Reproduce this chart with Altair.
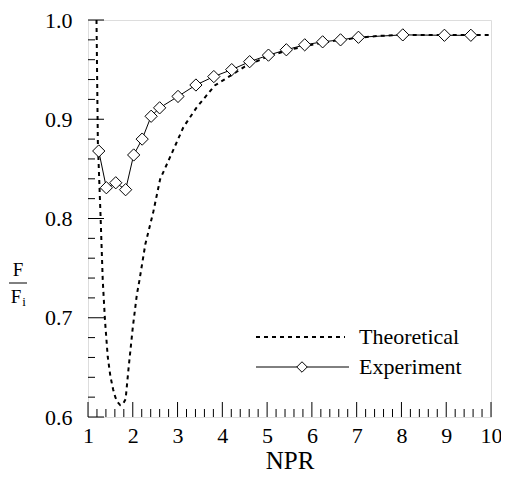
import altair as alt
import pandas as pd
import numpy as np

# Experiment data (NPR, F/Fi)
exp_x = [1.24, 1.41, 1.62, 1.84, 2.02, 2.21, 2.41, 2.60, 3.01, 3.41, 3.81, 4.21,
         4.61, 5.03, 5.43, 5.84, 6.24, 6.64, 7.04, 8.03, 8.96, 9.55]
exp_y = [0.868, 0.831, 0.836, 0.829, 0.864, 0.880, 0.903, 0.9115, 0.923, 0.9345,
         0.943, 0.950, 0.958, 0.9646, 0.970, 0.975, 0.978, 0.980, 0.9826, 0.985,
         0.9846, 0.9846]

# Theoretical curve
theo_x = [1.19, 1.22, 1.28, 1.33, 1.38, 1.44, 1.50, 1.56, 1.61, 1.66, 1.72, 1.78,
          1.84, 1.91, 2.00, 2.09, 2.15, 2.28, 2.46, 2.61, 2.92, 3.13, 3.42, 3.83,
          4.08, 4.50, 5.00, 5.50, 6.00, 6.50, 7.00, 7.50, 8.00, 9.00, 10.00]
theo_y = [1.0, 0.877, 0.803, 0.737, 0.697, 0.661, 0.641, 0.628, 0.620, 0.615, 0.612,
          0.613, 0.618, 0.651, 0.690, 0.723, 0.738, 0.774, 0.807, 0.8395, 0.8706,
          0.892, 0.9115, 0.934, 0.941, 0.953, 0.963, 0.970, 0.975, 0.979, 0.982,
          0.984, 0.985, 0.985, 0.985]

x_ticks = [1, 2, 3, 4, 5, 6, 7, 8, 9, 10]
y_ticks = [0.6, 0.7, 0.8, 0.9, 1.0]
x_minor = [round(v, 2) for v in np.arange(1.2, 10.0, 0.2) if abs(v - round(v)) > 1e-6]
y_minor = [round(v, 3) for v in np.arange(0.62, 1.0, 0.02) if abs(v * 10 - round(v * 10)) > 1e-6]
legend_labels = ["Theoretical", "Experiment"]

FONT = "'Liberation Serif', 'Times New Roman', 'DejaVu Serif', serif"
W, H = 403, 397

exp_df = pd.DataFrame({"NPR": exp_x, "F": exp_y})
theo_df = pd.DataFrame({"NPR": theo_x, "F": theo_y, "i": range(len(theo_x))})
xmaj_df = pd.DataFrame({"t": x_ticks})
xmin_df = pd.DataFrame({"t": x_minor})
ymaj_df = pd.DataFrame({"t": y_ticks})
ymin_df = pd.DataFrame({"t": y_minor})
one = pd.DataFrame({"d": [0]})

xscale = alt.Scale(domain=[1, 10], nice=False, zero=False)
yscale = alt.Scale(domain=[0.6, 1.0], nice=False, zero=False)

xaxis = alt.Axis(values=x_ticks, title="NPR", tickSize=0, domain=False, grid=False,
                 labelFontSize=22, labelFont=FONT, titleFont=FONT, titleFontSize=25,
                 titleFontWeight="normal", labelPadding=8, titlePadding=2,
                 labelColor="black", titleColor="black", labelFlush=False)
yaxis = alt.Axis(values=y_ticks, title=None, tickSize=0, domain=False, grid=False,
                 format=".1f", labelFontSize=22, labelFont=FONT, labelPadding=16,
                 labelColor="black", labelFlush=False)

X = alt.X("NPR:Q", scale=xscale, axis=xaxis)
Y = alt.Y("F:Q", scale=yscale, axis=yaxis)

theo = alt.Chart(theo_df).mark_line(color="black", strokeDash=[4, 4], strokeWidth=2,
                                    clip=True).encode(
    x=X, y=Y, order="i:Q")
exp_line = alt.Chart(exp_df).mark_line(color="black", strokeWidth=1, clip=True).encode(
    x=alt.X("NPR:Q", scale=xscale), y=alt.Y("F:Q", scale=yscale))
exp_pts = alt.Chart(exp_df).mark_point(shape="diamond", filled=True, fill="white",
                                       stroke="black", strokeWidth=1, size=150,
                                       opacity=1).encode(
    x=alt.X("NPR:Q", scale=xscale), y=alt.Y("F:Q", scale=yscale))

# inward ticks
xmaj = alt.Chart(xmaj_df).mark_rule(color="black", strokeWidth=1).encode(
    x=alt.X("t:Q", scale=xscale), y=alt.value(H), y2=alt.value(H - 15))
xmin = alt.Chart(xmin_df).mark_rule(color="black", strokeWidth=1).encode(
    x=alt.X("t:Q", scale=xscale), y=alt.value(H), y2=alt.value(H - 8))
ymaj = alt.Chart(ymaj_df).mark_rule(color="black", strokeWidth=1).encode(
    y=alt.Y("t:Q", scale=yscale), x=alt.value(0), x2=alt.value(16))
ymin = alt.Chart(ymin_df).mark_rule(color="black", strokeWidth=1).encode(
    y=alt.Y("t:Q", scale=yscale), x=alt.value(0), x2=alt.value(7))

# y-axis fraction title
base = alt.Chart(one)
f_top = base.mark_text(font=FONT, fontSize=19, color="black", baseline="middle").encode(
    x=alt.value(-70), y=alt.value(250), text=alt.value("F"))
f_bar = base.mark_rule(color="black", strokeWidth=1).encode(
    x=alt.value(-79), x2=alt.value(-61), y=alt.value(263))
f_bot = base.mark_text(font=FONT, fontSize=19, color="black", baseline="middle").encode(
    x=alt.value(-72), y=alt.value(277), text=alt.value("F"))
f_sub = base.mark_text(font=FONT, fontSize=13, color="black", baseline="middle").encode(
    x=alt.value(-64), y=alt.value(282), text=alt.value("i"))

# legend
lg_theo_line = base.mark_rule(color="black", strokeWidth=2, strokeDash=[4, 4]).encode(
    x=alt.value(168), x2=alt.value(257), y=alt.value(317))
lg_exp_line = base.mark_rule(color="black", strokeWidth=1).encode(
    x=alt.value(168), x2=alt.value(261), y=alt.value(347))
lg_exp_pt = base.mark_point(shape="diamond", filled=True, fill="white", stroke="black",
                            strokeWidth=1, size=110, opacity=1).encode(
    x=alt.value(214), y=alt.value(347))
lg_t1 = base.mark_text(font=FONT, fontSize=22, color="black", align="left",
                       baseline="middle").encode(
    x=alt.value(271), y=alt.value(317), text=alt.value(legend_labels[0]))
lg_t2 = base.mark_text(font=FONT, fontSize=22, color="black", align="left",
                       baseline="middle").encode(
    x=alt.value(271), y=alt.value(347), text=alt.value(legend_labels[1]))

chart = alt.layer(
    theo, exp_line, exp_pts, xmaj, xmin, ymaj, ymin,
    f_top, f_bar, f_bot, f_sub,
    lg_theo_line, lg_exp_line, lg_exp_pt, lg_t1, lg_t2,
).properties(
    width=W, height=H,
    autosize=alt.AutoSizeParams(type="none"),
    padding={"left": 80, "top": 12, "right": 10, "bottom": 58},
).configure_view(stroke="black", strokeWidth=1.5).configure(background="white")

chart.save("out.html", embed_options={"renderer": "svg", "actions": False})
